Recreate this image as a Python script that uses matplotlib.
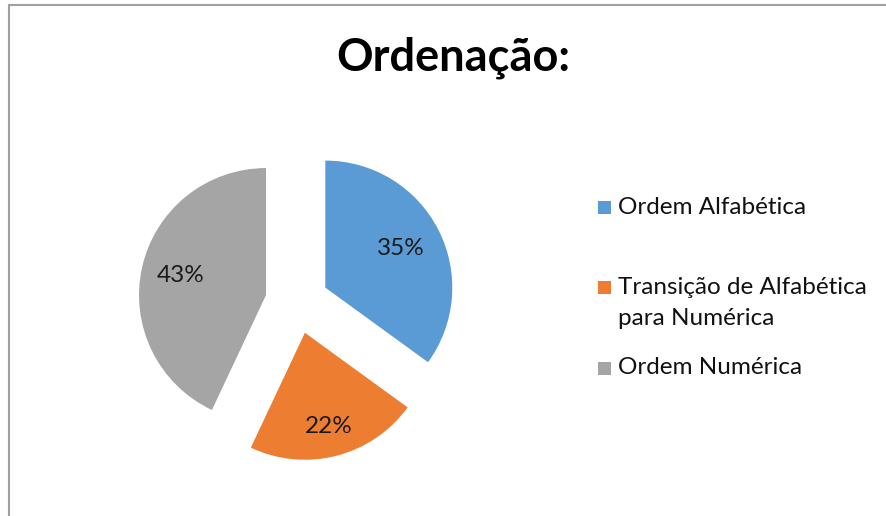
import numpy as np
import matplotlib
matplotlib.use('Agg')
import matplotlib.pyplot as plt
from matplotlib.patches import Rectangle

plt.rcParams['font.family'] = ['Lato', 'DejaVu Sans']

labels = ['Ordem Alfabética', 'Transição de Alfabética\npara Numérica', 'Ordem Numérica']
values = [35, 22, 43]
colors = ['#5B9BD5', '#ED7D31', '#A5A5A5']
pct_dist = [0.67, 0.76, 0.69]   # label distance per slice (Excel best fit)

W, H = 887, 516
R = 127                          # pie radius in pixels
fig = plt.figure(figsize=(W / 100, H / 100), dpi=100)
ax = fig.add_axes([0, 0, 1, 1])

# explode is in data units in matplotlib, so scale by the radius
wedges, _ = ax.pie(values, colors=colors, explode=[0.25 * R] * 3, startangle=90,
                   counterclock=False, radius=R, center=(297, H - 302),
                   wedgeprops=dict(linewidth=0))
# pie() resets the limits, so set them afterwards (1 data unit = 1 pixel)
ax.set_xlim(0, W)
ax.set_ylim(0, H)
ax.set_aspect('equal')
ax.axis('off')

# chart frame (only top/left visible)
ax.add_patch(Rectangle((9, -20), W + 20, H - 5 + 20, fill=False,
                       edgecolor='#a0a0a0', linewidth=1.5))

for w, v, d in zip(wedges, values, pct_dist):
    mid = np.deg2rad((w.theta1 + w.theta2) / 2)
    cx, cy = w.center
    ax.text(cx + d * w.r * np.cos(mid), cy + d * w.r * np.sin(mid), f'{v}%',
            ha='center', va='center', fontsize=17.5, color='#1a1a1a')

ax.text(453, H - 58, 'Ordenação:', ha='center', va='center',
        fontsize=32.5, fontweight='bold', color='black')

# legend
leg_y = [207, 287, 368]
for lab, c, y in zip(labels, colors, leg_y):
    ax.add_patch(Rectangle((598, H - y - 6.5), 13, 13, color=c, linewidth=0))
    if '\n' in lab:
        ax.text(618, H - y + 10, lab, ha='left', va='top',
                fontsize=17.5, color='#111111', linespacing=1.6)
    else:
        ax.text(618, H - y, lab, ha='left', va='center',
                fontsize=17.5, color='#111111')

fig.savefig('out.png', dpi=100)
